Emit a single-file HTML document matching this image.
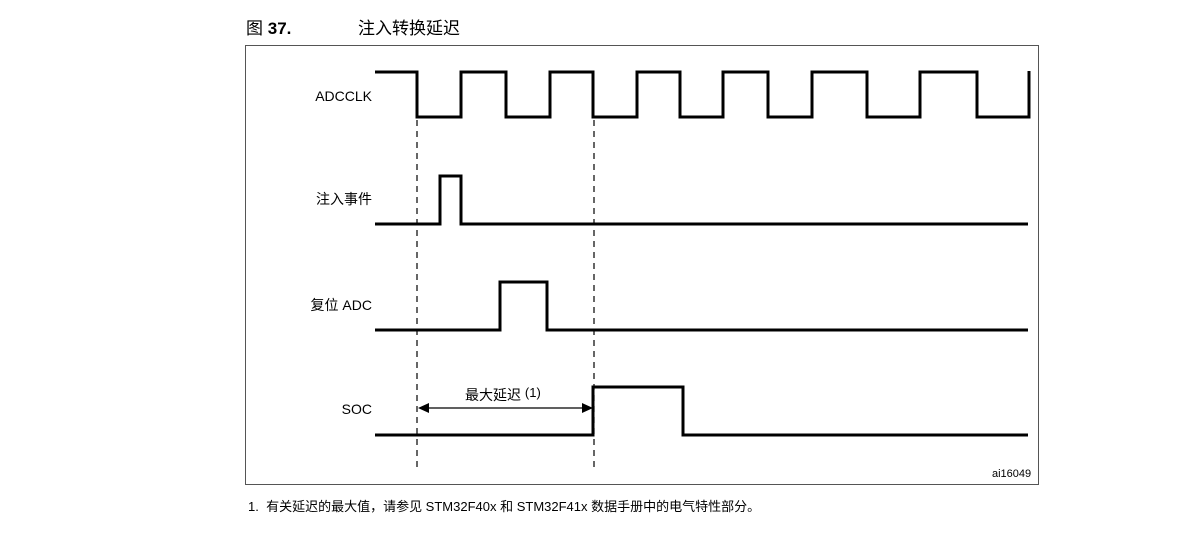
<!DOCTYPE html>
<html><head><meta charset="utf-8"><style>
body{margin:0;background:#fff;width:1185px;height:534px;overflow:hidden;position:relative;font-family:"Liberation Sans","Noto Sans CJK SC",sans-serif}
.t{position:absolute;white-space:nowrap;color:#000}
.r{position:absolute;right:813px;white-space:nowrap;color:#000;font-size:14px}
</style></head><body>
<div class="t" style="left:246px;top:14px;font-size:17px">图 <b>37.</b></div>
<div class="t" style="left:358px;top:14px;font-size:17px">注入转换延迟</div>
<svg width="1185" height="534" style="position:absolute;left:0;top:0">
<rect x="245.5" y="45.5" width="793" height="439" fill="none" stroke="#555" stroke-width="1"/>
<g fill="none" stroke="#000" stroke-width="3" stroke-linejoin="miter">
<polyline points="375,72 417,72 417,117 461,117 461,72 506,72 506,117 550,117 550,72 593,72 593,117 637,117 637,72 680,72 680,117 723,117 723,72 768,72 768,117 812,117 812,72 867,72 867,117 920,117 920,72 977,72 977,117 1029,117 1029,71"/>
<polyline points="375,224 440,224 440,176 461,176 461,224 1028,224"/>
<polyline points="375,330 500,330 500,282 547,282 547,330 1028,330"/>
<polyline points="375,435 593,435 593,387 683,387 683,435 1028,435"/>
</g>
<g stroke="#000" stroke-width="1.2" stroke-dasharray="6,5">
<line x1="417" y1="120" x2="417" y2="470"/>
<line x1="594" y1="120" x2="594" y2="470"/>
</g>
<line x1="425" y1="408" x2="585" y2="408" stroke="#000" stroke-width="1.2"/>
<polygon points="418,408 429,403 429,413" fill="#000"/>
<polygon points="593,408 582,403 582,413" fill="#000"/>
</svg>
<div class="r" style="top:88px">ADCCLK</div>
<div class="r" style="top:189px">注入事件</div>
<div class="r" style="top:295px">复位 ADC</div>
<div class="r" style="top:401px">SOC</div>
<div class="t" style="left:465px;top:385px;font-size:14px">最大延迟 <span style="font-size:13px;position:relative;top:-3px">(1)</span></div>
<div class="t" style="left:992px;top:468px;font-size:11px">ai16049</div>
<div class="t" style="left:248px;top:496px;font-size:13px">1.&nbsp;&nbsp;有关延迟的最大值，请参见 STM32F40x 和 STM32F41x 数据手册中的电气特性部分。</div>
</body></html>
